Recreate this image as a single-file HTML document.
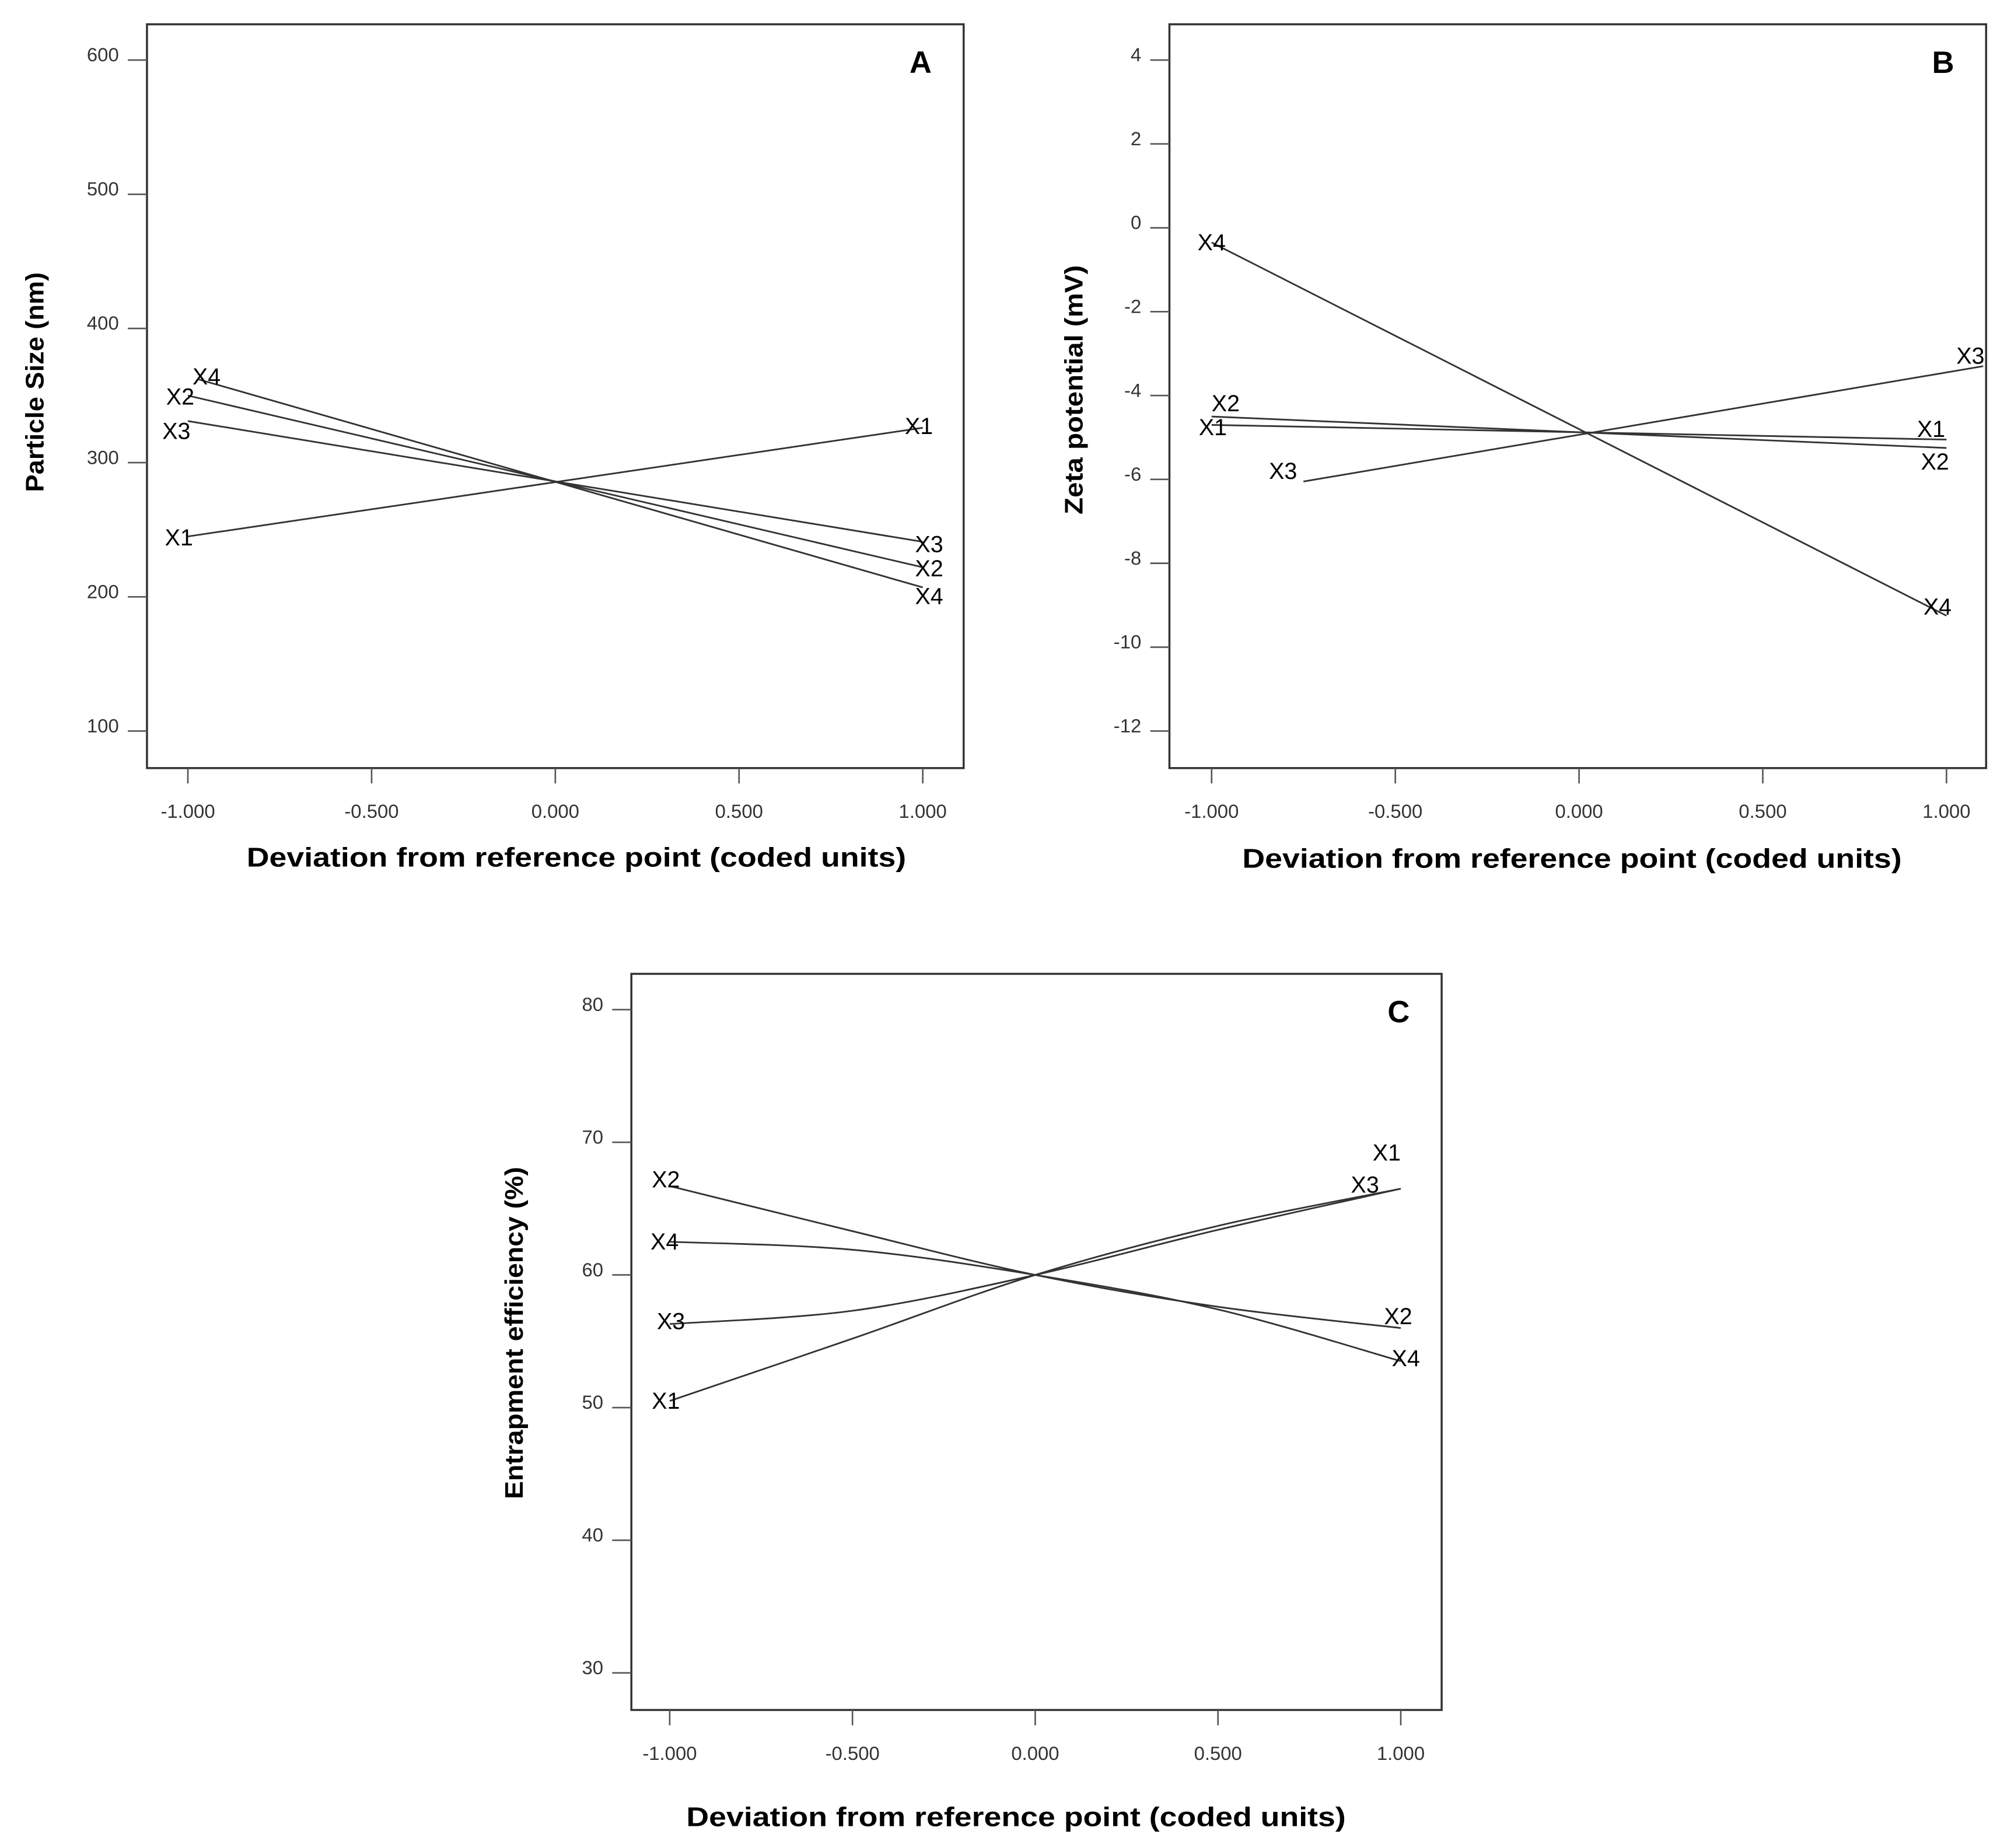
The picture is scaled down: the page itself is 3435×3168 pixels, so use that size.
<!DOCTYPE html>
<html><head><meta charset="utf-8"><style>
html,body{margin:0;padding:0;background:#fff;}
svg{display:block;}
text{font-family:"Liberation Sans","DejaVu Sans",sans-serif;}
</style></head><body>
<svg id="fig" xmlns="http://www.w3.org/2000/svg" width="3435" height="3168" viewBox="0 0 1568 1446" preserveAspectRatio="none"></svg>
<script>
// ---- Panel A data ----
const aXTicks = [-1, -0.5, 0, 0.5, 1];
const aXTickLabels = ["-1.000", "-0.500", "0.000", "0.500", "1.000"];
const aYTicks = [100, 200, 300, 400, 500, 600];
const aSeriesNames = ["X1", "X2", "X3", "X4"];
const aSeriesX = [[-1, 1], [-1, 1], [-1, 1], [-0.97, 1]];
const aSeriesY = [[245, 326], [350, 222], [331, 241], [362, 207]];
// ---- Panel B data ----
const bYTicks = [-12, -10, -8, -6, -4, -2, 0, 2, 4];
const bSeriesNames = ["X1", "X2", "X3", "X4"];
const bSeriesX = [[-1, 1], [-1, 1], [-0.75, 1.1], [-1, 1]];
const bSeriesY = [[-4.7, -5.05], [-4.5, -5.25], [-6.05, -3.3], [-0.35, -9.25]];
// ---- Panel C data ----
const cYTicks = [30, 40, 50, 60, 70, 80];
const cSeriesNames = ["X1", "X2", "X3", "X4"];
const cSeriesX = [-1, -0.5, 0, 0.5, 1];
const cSeriesY = [
  [50.5, 55.2, 60, 63.7, 66.5],
  [66.7, 63.3, 60, 57.6, 56.0],
  [56.3, 57.3, 60, 63.4, 66.5],
  [62.5, 61.9, 60, 57.4, 53.5]
];

const NS = "http://www.w3.org/2000/svg";
const svg = document.getElementById('fig');
function mk(tag, attrs, parent, txt){
  const e = document.createElementNS(NS, tag);
  for (const k in attrs) e.setAttribute(k, attrs[k]);
  if (txt !== undefined) e.textContent = txt;
  (parent || svg).appendChild(e);
  return e;
}

const panels = [
  {id:'a', letter:'A', box:[115,19,754,601], xAt:[147,722], yPix:[572,47], yRange:[100,600],
   yTicks:aYTicks, yFmt:v=>String(v), names:aSeriesNames, xs:aSeriesX, ys:aSeriesY, curve:false,
   ytitle:'Particle Size (nm)', ytx:27, yty:299, ytLen:172, xtitleX:451, xtitleY:678,
   lblL:[[-18,7],[-17,7],[-20,14],[-5,4]], lblR:[[-14,5],[-6,7],[-6,8],[-6,13]]},
  {id:'b', letter:'B', box:[915,19,1554,601], xAt:[948,1523], yPix:[572,47], yRange:[-12,4],
   yTicks:bYTicks, yFmt:v=>String(v), names:bSeriesNames, xs:bSeriesX, ys:bSeriesY, curve:false,
   ytitle:'Zeta potential (mV)', ytx:840, yty:305, ytLen:195, xtitleX:1230, xtitleY:679,
   lblL:[[-10,8],[0,-4],[-27,-2],[-11,6]], lblR:[[-23,-2],[-20,17],[-21,-2],[-18,-1]]},
  {id:'c', letter:'C', box:[494,762,1128,1338], xAt:[524,1096], yPix:[1309,790], yRange:[30,80],
   yTicks:cYTicks, yFmt:v=>String(v), names:cSeriesNames, xs:null, ys:cSeriesY, curve:true,
   ytitle:'Entrapment  efficiency (%)', ytx:402, yty:1043, ytLen:260, xtitleX:795, xtitleY:1429,
   lblL:[[-14,6],[-14,1],[-10,4],[-15,6]], lblR:[[-22,-22],[-13,-3],[-39,3],[-7,4]]}
];

panels.forEach(p=>{
  const g = mk('g', {});
  
  
  const [x0,y0,x1,y1] = p.box;
  const px = v => p.xAt[0] + (v + 1) / 2 * (p.xAt[1] - p.xAt[0]);
  const py = v => p.yPix[0] + (v - p.yRange[0]) / (p.yRange[1] - p.yRange[0]) * (p.yPix[1] - p.yPix[0]);
  const frame = mk('rect', {x:x0, y:y0, width:x1-x0, height:y1-y0, fill:'none', stroke:'#333', 'stroke-width':1.6}, g);
  
  
  p.yTicks.forEach(v=>{
    const y = py(v);
    const t = mk('line', {x1:x0-15, y1:y, x2:x0, y2:y, stroke:'#555', 'stroke-width':1.2}, g);
    
    
    const l = mk('text', {x:x0-22, y:y+1, 'font-size':15, fill:'#333', 'text-anchor':'end'}, g, p.yFmt(v));
    
    
  });
  aXTicks.forEach((v,i)=>{
    const x = px(v);
    const t = mk('line', {x1:x, y1:y1, x2:x, y2:y1+12, stroke:'#555', 'stroke-width':1.2}, g);
    
    
    const l = mk('text', {x:x, y:y1+39, 'font-size':15, fill:'#333', 'text-anchor':'middle'}, g, aXTickLabels[i]);
    
    
  });
  const xt = mk('text', {x:p.xtitleX, y:p.xtitleY, 'font-size':21, 'font-weight':'bold', 'text-anchor':'middle', fill:'#000', textLength:516, lengthAdjust:'spacingAndGlyphs'}, g, 'Deviation from reference point (coded units)');
  
  
  const yt = mk('text', {x:p.ytx, y:p.yty, 'font-size':20, 'font-weight':'bold', 'text-anchor':'middle', fill:'#000', transform:`rotate(-90 ${p.ytx} ${p.yty})`, dy:7, textLength:p.ytLen, lengthAdjust:'spacingAndGlyphs'}, g, p.ytitle);
  
  
  const lt = mk('text', {x:x1-25, y:y0+38, 'font-size':24, 'font-weight':'bold', 'text-anchor':'end', fill:'#000'}, g, p.letter);
  
  
  p.names.forEach((name,i)=>{
    const xs = p.curve ? cSeriesX : p.xs[i];
    const ys = p.ys[i];
    const pts = xs.map((x,k)=>[px(x), py(ys[k])]);
    let d = 'M' + pts[0][0] + ' ' + pts[0][1];
    if (p.curve) {
      for (let k=0;k<pts.length-1;k++){
        const p0 = pts[Math.max(0,k-1)], p1 = pts[k], p2 = pts[k+1], p3 = pts[Math.min(pts.length-1,k+2)];
        const c1 = [p1[0]+(p2[0]-p0[0])/6, p1[1]+(p2[1]-p0[1])/6];
        const c2 = [p2[0]-(p3[0]-p1[0])/6, p2[1]-(p3[1]-p1[1])/6];
        d += ` C${c1[0]} ${c1[1]} ${c2[0]} ${c2[1]} ${p2[0]} ${p2[1]}`;
      }
    } else {
      pts.slice(1).forEach(q=>{ d += ' L' + q[0] + ' ' + q[1]; });
    }
    const path = mk('path', {d:d, fill:'none', stroke:'#333', 'stroke-width':1.3}, g);
    
    
    const s = pts[0], e = pts[pts.length-1];
    const ll = mk('text', {x:s[0]+p.lblL[i][0], y:s[1]+p.lblL[i][1], 'font-size':18, fill:'#000'}, g, name);
    
    
    const lr = mk('text', {x:e[0]+p.lblR[i][0], y:e[1]+p.lblR[i][1], 'font-size':18, fill:'#000'}, g, name);
    
    
  });
});
</script>
</body></html>
